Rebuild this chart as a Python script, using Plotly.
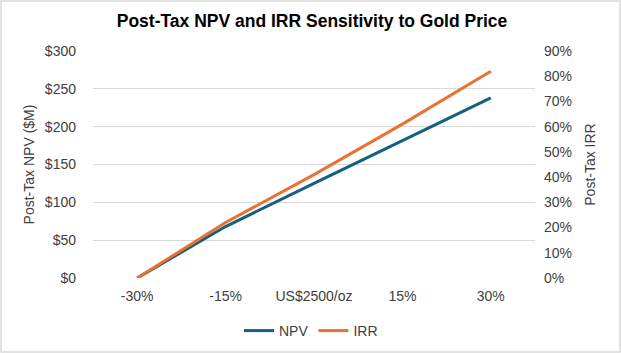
import plotly.graph_objects as go

categories = ["-30%", "-15%", "US$2500/oz", "15%", "30%"]
npv = [0, 68, 125, 182, 238]          # $M
irr = [0.0, 0.22, 0.41, 0.61, 0.82]   # fraction

W, H = 621, 353
L, R, T, B = 93, 86, 51, 75

fig = go.Figure()
fig.add_trace(go.Scatter(x=categories, y=npv, name="NPV", mode="lines",
                         line=dict(color="#156082", width=3), yaxis="y"))
fig.add_trace(go.Scatter(x=categories, y=irr, name="IRR", mode="lines",
                         line=dict(color="#E97132", width=3), yaxis="y2"))

pw = W - L - R
ph = H - T - B
def px_x(p):
    return (p - L) / pw
def px_y(p):
    return (H - B - p) / ph

font_main = "Liberation Sans, Arial, sans-serif"
fig.update_layout(
    width=W, height=H,
    margin=dict(l=L, r=R, t=T, b=B, autoexpand=False),
    paper_bgcolor="white", plot_bgcolor="white",
    font=dict(family=font_main, size=14, color="#404040"),
    title=dict(text="<b>Post-Tax NPV and IRR Sensitivity to Gold Price</b>",
               x=px_x(312), xref="paper", xanchor="center", y=1 - 21/H, yanchor="middle",
               font=dict(family=font_main, size=17.5, color="#000000")),
    showlegend=True,
    legend=dict(orientation="h", x=px_x(311), xanchor="center", y=px_y(331),
                yanchor="middle", font=dict(size=14, color="#404040"),
                itemwidth=30, tracegroupgap=0, bgcolor="rgba(0,0,0,0)"),
    xaxis=dict(type="category", range=[-0.5, 4.5], showgrid=False, showline=False,
               zeroline=False, ticks="", ticklabelstandoff=8,
               tickfont=dict(size=14, color="#404040")),
    yaxis=dict(range=[0, 300], dtick=50, tickprefix="$", showgrid=True,
               gridcolor="#d9d9d9", gridwidth=1, zeroline=False, showline=False,
               ticks="", ticklabelstandoff=16,
               title=dict(text="Post-Tax NPV ($M)", font=dict(size=14, color="#404040"), standoff=6),
               tickfont=dict(size=14, color="#404040")),
    yaxis2=dict(range=[0, 0.9], dtick=0.1, tickformat=".0%", overlaying="y",
                side="right", showgrid=False, zeroline=False, showline=False, ticks="",
                ticklabelstandoff=8,
                title=dict(text="Post-Tax IRR", font=dict(size=14, color="#404040"), standoff=14),
                tickfont=dict(size=14, color="#404040")),
)

fig.add_shape(type="rect", xref="paper", yref="paper",
              x0=px_x(1), x1=px_x(W - 1), y0=px_y(H - 1), y1=px_y(1),
              line=dict(color="#d9d9d9", width=1.5), fillcolor="rgba(0,0,0,0)", layer="below")

fig.write_html("out.html")
